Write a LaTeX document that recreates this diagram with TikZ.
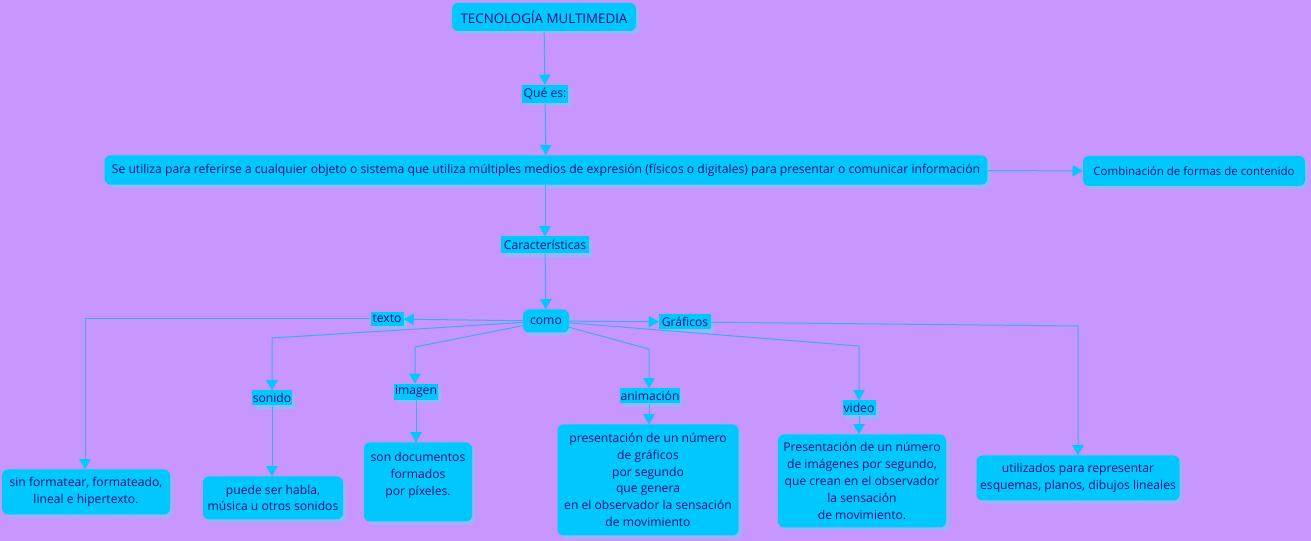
\documentclass[tikz,border=0pt]{standalone}
\usepackage{fontspec}
\setmainfont{Open Sans}
\usetikzlibrary{arrows.meta,shadows}
\definecolor{bgc}{RGB}{200,150,255}
\definecolor{boxc}{RGB}{0,200,255}
\definecolor{shc}{RGB}{145,185,255}
\definecolor{linec}{RGB}{60,170,255}
\definecolor{txt}{RGB}{15,15,120}
\tikzset{
  shad/.style={drop shadow={shadow xshift=2.4pt, shadow yshift=-2.4pt, fill=shc, opacity=1}},
  box/.style={fill=boxc, rounded corners=4.5pt, text=txt, align=center,
    font=\fontsize{9.1}{12.6}\selectfont, inner sep=1pt, shad},
  lab/.style={fill=boxc, text=txt, align=center,
    font=\fontsize{9.1}{10}\selectfont, inner sep=0.5pt, shad},
  arr/.style={draw=linec, line width=0.75pt, -{Triangle[length=7.5pt,width=8.5pt,color=boxc]}}
}
\begin{document}
\begin{tikzpicture}[x=0.75pt,y=-0.75pt]
\fill[bgc] (0,0) rectangle (1311,541);
\useasboundingbox (0,0) rectangle (1311,541);

\node[box, minimum width=138pt, minimum height=21pt, font=\fontsize{10}{12}\selectfont] (tec) at (544,17) {TECNOLOGÍA MULTIMEDIA};
\node[lab, minimum width=34.5pt, minimum height=13.5pt] (que) at (545,94) {Qué es:};
\node[box, minimum width=662pt, minimum height=22pt] (main) at (546,170) {Se utiliza para referirse a cualquier objeto o sistema que utiliza múltiples medios de expresión (físicos o digitales) para presentar o comunicar información};
\node[box, minimum width=166.5pt, minimum height=22.5pt, font=\fontsize{8.6}{12}\selectfont] (comb) at (1194,171) {Combinación de formas de contenido};
\node[lab, minimum width=66pt, minimum height=12.75pt] (car) at (545,245) {Características};
\node[box, minimum width=34.5pt, minimum height=17.25pt] (como) at (546,321) {como};
\node[lab, minimum width=24.75pt, minimum height=10.5pt] (texto) at (387,319) {texto};
\node[lab, minimum width=39pt, minimum height=11.25pt] (graf) at (685,322) {Gráficos};
\node[lab, minimum width=28.5pt, minimum height=11.25pt] (sonido) at (272,398) {sonido};
\node[lab, minimum width=32.25pt, minimum height=12pt] (imagen) at (416,392) {imagen};
\node[lab, minimum width=43.5pt, minimum height=11.25pt] (anim) at (650,396) {animación};
\node[lab, minimum width=24.75pt, minimum height=11.25pt] (video) at (859,408) {video};

\node[box, minimum width=126pt, minimum height=33.75pt] (sin) at (86,492) {sin formatear, formateado,\\lineal e hipertexto.};
\node[box, minimum width=105pt, minimum height=32.25pt] (puede) at (273,498) {puede ser habla,\\música u otros sonidos};
\node[box, minimum width=81pt, minimum height=59.25pt] (son) at (418,482) {son documentos\\formados\\por píxeles.\\\mbox{}};
\node[box, minimum width=135.75pt, minimum height=83.25pt] (pres) at (648,480) {presentación de un número\\de gráficos\\por segundo\\que genera\\en el observador la sensación\\de movimiento};
\node[box, minimum width=126pt, minimum height=69.75pt] (vid) at (862,481) {Presentación de un número\\de imágenes por segundo,\\que crean en el observador\\la sensación\\de movimiento.};
\node[box, minimum width=152.25pt, minimum height=33.75pt] (util) at (1078,478) {utilizados para representar\\esquemas, planos, dibujos lineales};

\coordinate (bt) at (85,319);
\coordinate (bs) at (272,338);
\coordinate (bi) at (415,347);
\coordinate (ba) at (649,349);
\coordinate (bv) at (859,346);
\coordinate (bg) at (1078,326);

\draw[arr] (tec) -- (que);
\draw[arr] (que) -- (main);
\draw[arr] (main) -- (comb);
\draw[arr] (main.south -| car) -- (car);
\draw[arr] (car) -- (como);
\draw[arr] (como) -- (texto);
\draw[arr] (texto) -- (bt) -- (sin.north -| bt);
\draw[arr] (como) -- (bs) -- (sonido);
\draw[arr] (sonido) -- (puede.north -| sonido);
\draw[arr] (como) -- (bi) -- (imagen.north -| bi);
\draw[arr] (imagen) -- (son.north -| imagen);
\draw[arr] (como) -- (ba) -- (anim.north -| ba);
\draw[arr] (anim.south -| ba) -- (pres.north -| ba);
\draw[arr] (como) -- (bv) -- (video);
\draw[arr] (video) -- (vid.north -| video);
\draw[arr] (como) -- (graf);
\draw[arr] (graf) -- (bg) -- (util);
\end{tikzpicture}
\end{document}
